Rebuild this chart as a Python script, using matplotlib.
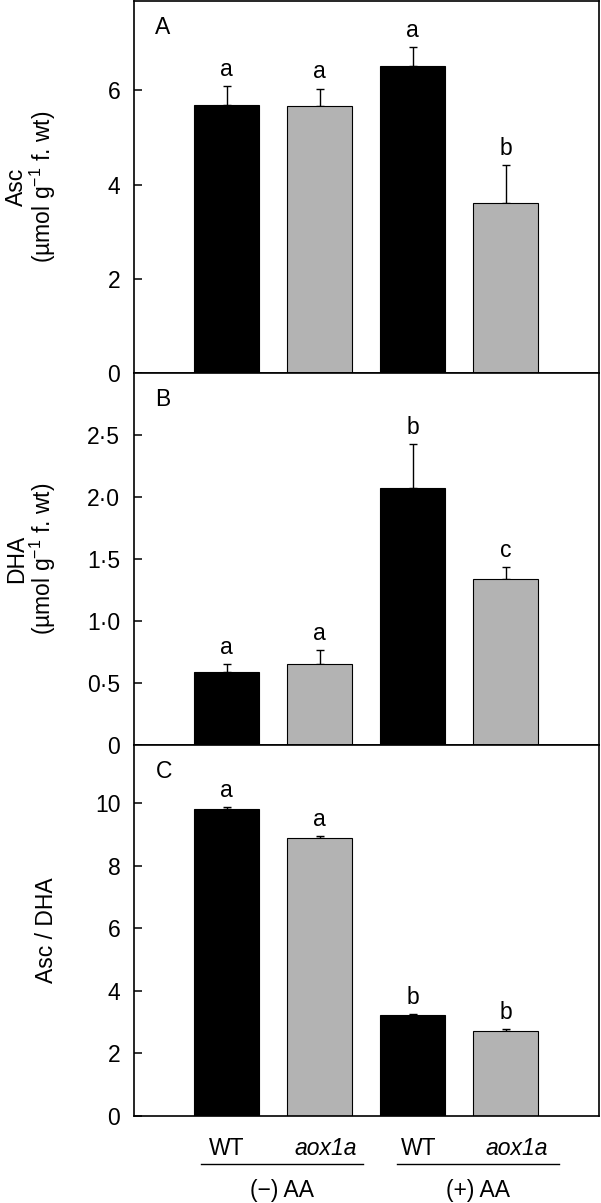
import numpy as np
import matplotlib
matplotlib.use("Agg")
import matplotlib.pyplot as plt
from matplotlib.ticker import FixedLocator, FixedFormatter

plt.rcParams['font.family'] = ['Liberation Sans', 'DejaVu Sans']
plt.rcParams['mathtext.fontset'] = 'custom'
plt.rcParams['mathtext.rm'] = 'Liberation Sans'
plt.rcParams['mathtext.it'] = 'Liberation Sans:italic'

# data
genotypes = ["WT", "aox1a", "WT", "aox1a"]
treatments = ["(\u2212) AA", "(+) AA"]

asc_mean = [5.69, 5.68, 6.52, 3.60]
asc_err = [0.40, 0.36, 0.40, 0.81]
asc_letters = ["a", "a", "a", "b"]

dha_mean = [0.586, 0.653, 2.07, 1.34]
dha_err = [0.067, 0.111, 0.36, 0.095]
dha_letters = ["a", "a", "b", "c"]

ratio_mean = [9.82, 8.90, 3.22, 2.73]
ratio_err = [0.06, 0.05, 0.05, 0.05]
ratio_letters = ["a", "a", "b", "b"]

asc_ticks = [0, 2, 4, 6]
asc_ticklabels = ["0", "2", "4", "6"]
dha_ticks = [0, 0.5, 1.0, 1.5, 2.0, 2.5]
dha_ticklabels = ["0", "0\u00b75", "1\u00b70", "1\u00b75", "2\u00b70", "2\u00b75"]
ratio_ticks = [0, 2, 4, 6, 8, 10]
ratio_ticklabels = ["0", "2", "4", "6", "8", "10"]

bar_colors = ["black", "#b3b3b3", "black", "#b3b3b3"]
FS = 16.5

panels = [
    ("A", asc_mean, asc_err, asc_letters, asc_ticks, asc_ticklabels, 7.9,
     "Asc\n(\u00b5mol g$^{\u22121}$ f. wt)"),
    ("B", dha_mean, dha_err, dha_letters, dha_ticks, dha_ticklabels, 3.0,
     "DHA\n(\u00b5mol g$^{\u22121}$ f. wt)"),
    ("C", ratio_mean, ratio_err, ratio_letters, ratio_ticks, ratio_ticklabels, 11.87,
     "Asc / DHA"),
]

fig = plt.figure(figsize=(6.01, 12.03), dpi=100)
left, width = 133.5 / 601, 465.5 / 601
tops = [1, 373, 745]
bottoms = [373, 745, 1116]

x = np.arange(len(genotypes))
axes = []
for i, (tag, mean, err, letters, ticks, ticklabels, ymax, ylab) in enumerate(panels):
    ax = fig.add_axes([left, 1 - bottoms[i] / 1203, width,
                       (bottoms[i] - tops[i]) / 1203])
    axes.append(ax)
    ax.bar(x, mean, width=0.70, color=bar_colors, edgecolor="black",
           linewidth=0.8, zorder=2)
    ax.errorbar(x, mean, yerr=[np.zeros(len(mean)), err], fmt="none",
                ecolor="black", elinewidth=1.0, capsize=3.2, capthick=1.0,
                zorder=1)
    for xi, m, e, lt in zip(x, mean, err, letters):
        ax.annotate(lt, (xi, m + e), xytext=(0, 7.3), textcoords="offset points",
                    ha="center", va="baseline", fontsize=FS)
    ax.set_xlim(-1, 4)
    ax.set_ylim(0, ymax)
    ax.yaxis.set_major_locator(FixedLocator(ticks))
    ax.yaxis.set_major_formatter(FixedFormatter(ticklabels))
    ax.set_xticks([])
    ax.tick_params(axis="y", direction="in", length=6, width=1.1,
                   pad=9.5, labelsize=FS)
    for sp in ax.spines.values():
        sp.set_linewidth(1.2)
    ax.text(0.047, 0.912, tag, transform=ax.transAxes, ha="left",
            va="baseline", fontsize=FS)
    ax.set_ylabel(ylab, fontsize=FS, linespacing=1.0)
    ax.yaxis.set_label_coords(-0.162, 0.5)

# group labels under the bottom panel
ax = axes[-1]
tr = ax.get_xaxis_transform()
label_shift = [0.0, 0.07, 0.06, 0.12]
for xi, g, s in zip(x, genotypes, label_shift):
    ax.text(xi + s, -0.105, g, transform=tr, ha="center", va="baseline",
            fontsize=FS, style="italic" if g != "WT" else "normal",
            clip_on=False)
group_centers = [0.6, 2.7]
for c, t in zip(group_centers, treatments):
    ax.plot([c - 0.87, c + 0.87], [-0.130, -0.130], transform=tr, color="black",
            lw=1.0, clip_on=False)
    ax.text(c, -0.200, t, transform=tr, ha="center", va="center",
            fontsize=FS, clip_on=False)

fig.savefig("out.png", dpi=100)
